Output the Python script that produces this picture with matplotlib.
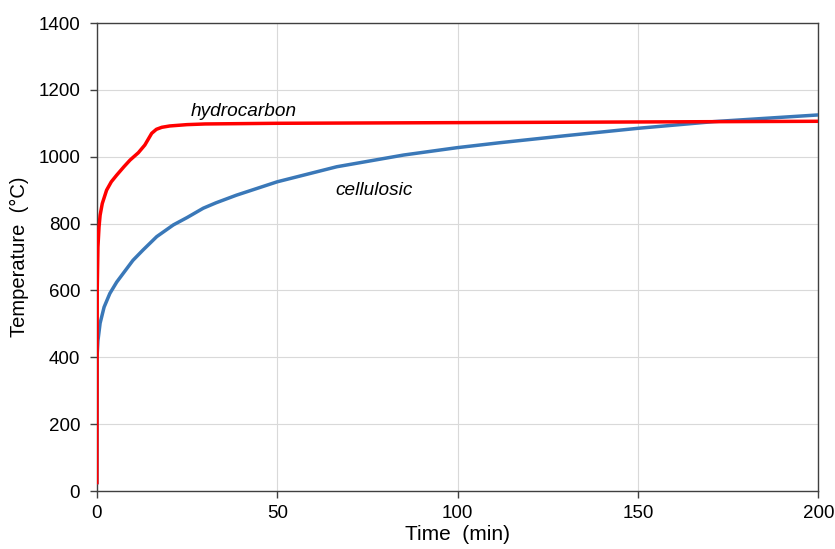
import matplotlib
matplotlib.use("Agg")
import matplotlib.pyplot as plt

plt.rcParams["font.family"] = ["Liberation Sans", "DejaVu Sans"]

# values (time in min, temperature in degC)
hydro_t = [0, 0.1, 0.3, 0.6, 0.9, 1.5, 2.7, 4, 5.5, 7.5, 9.2, 11.5, 13.3, 15.2, 16.5, 18, 20.2, 25,
           30, 40, 50, 75, 100, 125, 150, 175, 200]
hydro_T = [20, 600, 730, 790, 825, 860, 900, 925, 945, 970, 990, 1012, 1035, 1070, 1082, 1088, 1092, 1096,
           1098, 1099, 1100, 1101, 1102, 1103, 1104, 1105, 1106]

cell_t = [0, 0.05, 0.3, 0.9, 2, 3.6, 5.5, 7.3, 10, 12.8, 16.6, 21.2, 25, 29.5, 33, 38.7, 50, 66.5, 85,
          99.8, 111.8, 130, 150, 171, 200]
cell_T = [20, 400, 450, 502, 550, 591, 625, 651, 690, 721, 761, 796, 818, 846, 862, 885, 925, 970, 1005,
          1027, 1042, 1063, 1085, 1105, 1125]

x_ticks = [0, 50, 100, 150, 200]
y_ticks = [0, 200, 400, 600, 800, 1000, 1200, 1400]

fig = plt.figure(figsize=(8.35, 5.49), dpi=100)
ax = fig.add_axes([0.116, 0.1056, 0.864, 0.8525])

ax.plot(cell_t, cell_T, color="#3a78b8", lw=2.5, solid_capstyle="butt", zorder=3)
ax.plot(hydro_t, hydro_T, color="#ff0000", lw=2.5, solid_capstyle="butt", zorder=4)

ax.set_xlim(0, 200)
ax.set_ylim(0, 1400)
ax.set_xticks(x_ticks)
ax.set_yticks(y_ticks)
ax.grid(True, color="#d9d9d9", lw=0.8)
ax.set_axisbelow(True)
for s in ax.spines.values():
    s.set_color("#404040")
    s.set_linewidth(1.0)
ax.tick_params(direction="out", length=5, width=1, color="#404040", labelsize=13.5, pad=5)
ax.tick_params(axis="y", pad=7)

ax.set_xlabel("Time  (min)", fontsize=15, labelpad=2)
ax.set_ylabel("Temperature  (\u00b0C)", fontsize=14.5, labelpad=7)

ax.text(26, 1122, "hydrocarbon", fontsize=13.7, style="italic")
ax.text(66, 886, "cellulosic", fontsize=13.7, style="italic")

fig.savefig("out.png", dpi=100)
